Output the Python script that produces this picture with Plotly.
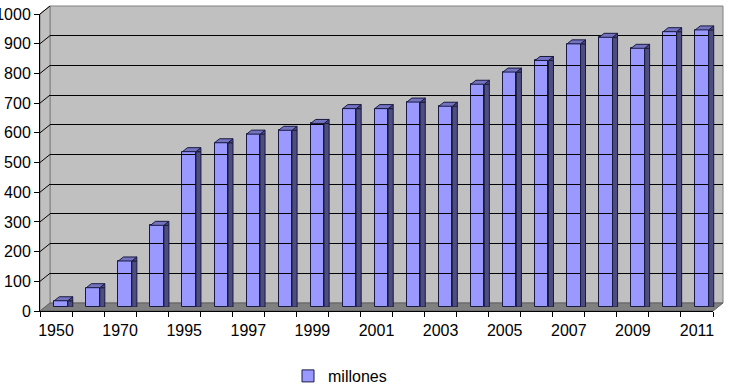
import plotly.graph_objects as go

categories = ["1950", "1960", "1970", "1980", "1995", "1996", "1997", "1998", "1999", "2000",
              "2001", "2002", "2003", "2004", "2005", "2006", "2007", "2008", "2009", "2010", "2011"]
millones = [21, 65, 155, 275, 523, 553, 582, 595, 618, 668,
            668, 690, 676, 750, 791, 830, 886, 908, 871, 927, 933]
series_name = "millones"
y_ticks = list(range(0, 1001, 100))

# layout geometry (pixels)
L, T, R, B = 40, 6, 8, 77
FIG_W, FIG_H = 731, 388
W = FIG_W - L - R
H = FIG_H - T - B
DEPTH_X, DEPTH_Y = 10, 8          # 3D wall offset
fx = lambda px: (px - L) / W
fy = lambda py: (T + H - py) / H
front_right = L + W - DEPTH_X
front_top = T + DEPTH_Y
bottom = T + H

BAR_W = 0.42
n = len(categories)
unit_px = (W - DEPTH_X) / n
dxu = 5 / unit_px

FONT = "Liberation Sans, Arial, sans-serif"
FS = 16

fig = go.Figure()
fig.add_trace(go.Bar(
    x=categories, y=millones, name=series_name, width=BAR_W,
    marker=dict(color="#9999ff", line=dict(color="#1a1a40", width=1)),
    xaxis="x2", yaxis="y2", showlegend=True,
))

shapes = []
# back wall
shapes.append(dict(type="rect", xref="paper", yref="paper",
                   x0=fx(L + DEPTH_X), x1=1, y0=fy(bottom - DEPTH_Y), y1=1,
                   fillcolor="#c0c0c0", line=dict(color="#808080", width=1), layer="below"))
# left side wall
shapes.append(dict(type="path", xref="paper", yref="paper",
                   path=f"M0,0 L0,{fy(front_top)} L{fx(L + DEPTH_X)},1 L{fx(L + DEPTH_X)},{fy(bottom - DEPTH_Y)} Z",
                   fillcolor="#c0c0c0", line=dict(color="#808080", width=1), layer="below"))
# floor
shapes.append(dict(type="path", xref="paper", yref="paper",
                   path=f"M0,0 L{fx(front_right)},0 L1,{fy(bottom - DEPTH_Y)} L{fx(L + DEPTH_X)},{fy(bottom - DEPTH_Y)} Z",
                   fillcolor="#808080", line=dict(color="#606060", width=1), layer="below"))
# slanted gridlines on side wall
for v in y_ticks[1:]:
    yf = fy(bottom - v / 1000 * (H - DEPTH_Y))
    yb = fy(bottom - DEPTH_Y - v / 1000 * (H - DEPTH_Y))
    shapes.append(dict(type="line", xref="paper", yref="paper",
                       x0=0, y0=yf, x1=fx(L + DEPTH_X), y1=yb,
                       line=dict(color="#000000", width=1), layer="below"))

# 3D faces of the bars
for i, v in enumerate(millones):
    xr = i + BAR_W / 2
    xl = i - BAR_W / 2
    shapes.append(dict(type="rect", xref="x2", yref="y2",
                       x0=xr, x1=xr + dxu, y0=0, y1=v,
                       fillcolor="#4d4d80", line=dict(color="#1a1a40", width=1), layer="above"))
    shapes.append(dict(type="path", xref="x2", yref="y2", ysizemode="pixel", yanchor=v,
                       path=f"M{xr},0 L{xr + dxu},4 L{xr + dxu},0 Z",
                       fillcolor="#4d4d80", line=dict(color="#1a1a40", width=1), layer="above"))
    shapes.append(dict(type="path", xref="x2", yref="y2", ysizemode="pixel", yanchor=v,
                       path=f"M{xl},0 L{xr},0 L{xr + dxu},4 L{xl + dxu},4 Z",
                       fillcolor="#7373bf", line=dict(color="#1a1a40", width=1), layer="above"))

fig.update_layout(
    width=FIG_W, height=FIG_H,
    margin=dict(l=L, r=R, t=T, b=B, pad=0, autoexpand=False),
    paper_bgcolor="white", plot_bgcolor="rgba(0,0,0,0)",
    font=dict(family=FONT, size=FS, color="black"),
    bargap=0,
    shapes=shapes,
    showlegend=True,
    legend=dict(orientation="h", xref="container", yref="container",
                x=288 / FIG_W, xanchor="left", y=1 - 376 / FIG_H, yanchor="middle",
                font=dict(family=FONT, size=FS, color="black"), bgcolor="rgba(0,0,0,0)"),
    xaxis=dict(domain=[0, fx(front_right)], range=[-0.5, n - 0.5], anchor="y",
               tickmode="array", tickvals=list(range(0, n, 2)), ticktext=categories[::2],
               ticks="", showgrid=False, zeroline=False,
               showline=True, linecolor="black", linewidth=1,
               minor=dict(tickvals=[i - 0.5 for i in range(n + 1)], ticks="outside",
                          ticklen=5, tickcolor="black", showgrid=False),
               ticklabelstandoff=5, automargin=False,
               tickfont=dict(family=FONT, size=FS, color="black")),
    yaxis=dict(domain=[0, fy(front_top)], range=[0, 1000], anchor="x",
               tickmode="array", tickvals=y_ticks, ticks="outside", ticklen=5,
               tickcolor="black", showline=True, linecolor="black", linewidth=1,
               showgrid=False, zeroline=False, automargin=False,
               tickfont=dict(family=FONT, size=FS, color="black")),
    xaxis2=dict(domain=[fx(L + 5), fx(front_right + 5)], range=[-0.5, n - 0.5], anchor="y2",
                type="category", visible=False),
    yaxis2=dict(domain=[fy(bottom - 4), fy(front_top - 4)], range=[0, 1000], anchor="x2",
                visible=False),
    xaxis3=dict(domain=[fx(L + DEPTH_X), 1], range=[0, 1], anchor="y3", visible=False),
    yaxis3=dict(domain=[fy(bottom - DEPTH_Y), 1], range=[0, 1000], anchor="x3",
                tickvals=y_ticks, showgrid=True, gridcolor="black", gridwidth=1,
                showticklabels=False, ticks="", zeroline=False, showline=False),
)
# invisible traces to activate the front axes and the back-wall axes
fig.add_trace(go.Scatter(x=[0], y=[0], xaxis="x", yaxis="y", mode="markers",
                         marker=dict(opacity=0), showlegend=False, hoverinfo="skip"))
fig.add_trace(go.Scatter(x=[0], y=[0], xaxis="x3", yaxis="y3", mode="markers",
                         marker=dict(opacity=0), showlegend=False, hoverinfo="skip"))

fig.write_html("out.html")
